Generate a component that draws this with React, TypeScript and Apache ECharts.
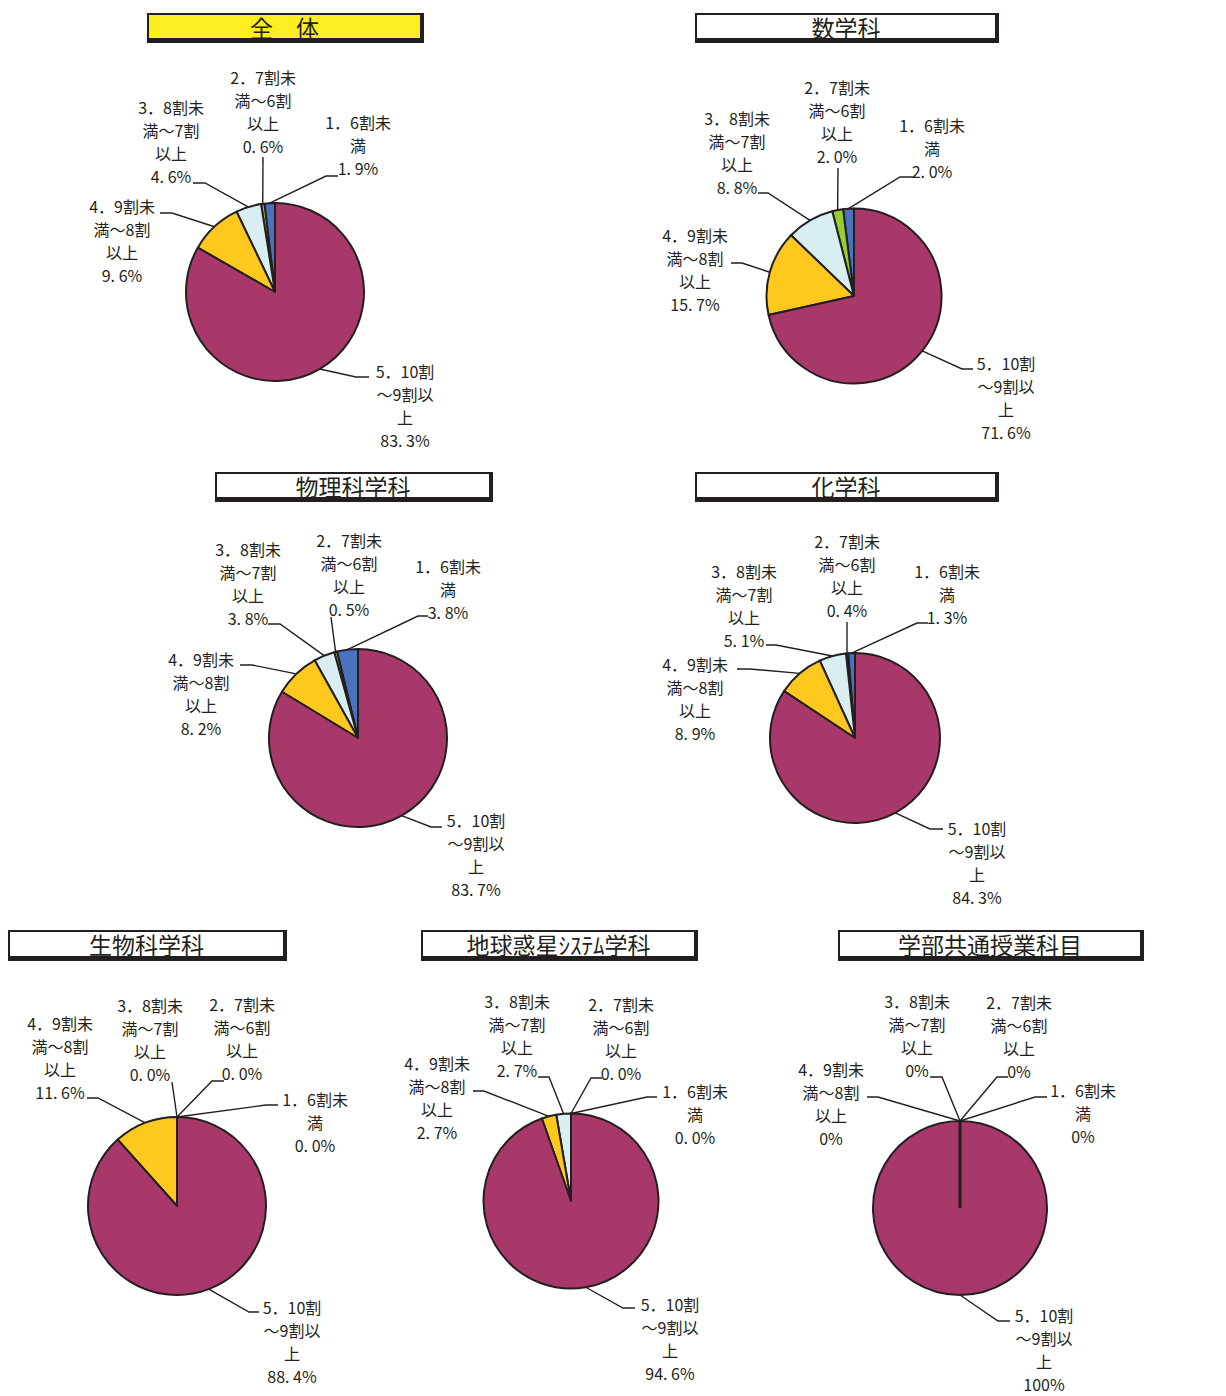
import React, { useEffect, useRef } from "react";
import * as echarts from "echarts";

// ---- data ----
const categories = [
  "1．6割未\n満",
  "2．7割未\n満～6割\n以上",
  "3．8割未\n満～7割\n以上",
  "4．9割未\n満～8割\n以上",
  "5．10割\n～9割以\n上",
];
const chartTitles = ["全　体", "数学科", "物理科学科", "化学科", "生物科学科", "地球惑星ｼｽﾃﾑ学科", "学部共通授業科目"];
const zentai = [1.9, 0.6, 4.6, 9.6, 83.3];
const sugaku = [2.0, 2.0, 8.8, 15.7, 71.6];
const butsuri = [3.8, 0.5, 3.8, 8.2, 83.7];
const kagaku = [1.3, 0.4, 5.1, 8.9, 84.3];
const seibutsu = [0.0, 0.0, 0.0, 11.6, 88.4];
const chikyu = [0.0, 0.0, 2.7, 2.7, 94.6];
const kyotsu = [0, 0, 0, 0, 100];
const seriesValues = [zentai, sugaku, butsuri, kagaku, seibutsu, chikyu, kyotsu];
const valueDecimals = [1, 1, 1, 1, 1, 1, 0];

// ---- layout / style ----
const sliceColors = ["#4A72BF", "#99CC33", "#D9EEF0", "#FFC81E", "#A8386A"];
const INK = "#231F20";
const FONT = "'Noto Sans CJK JP', 'Noto Sans', sans-serif";
const LABEL_FONT = 16;
const LINE_H = 23;

// [cx, cy, r]
const pieGeom = [
  [275, 292, 89],
  [854, 296, 87.5],
  [358, 738, 89],
  [855, 738, 85],
  [177, 1206, 89],
  [571, 1201, 87.5],
  [960, 1208, 87],
];

// per label: [textCenterX, firstLineCenterY, bendX, bendY, endX, endY]
const labelPos = [
  [
    [358, 122, 326, 176, 338, 176],
    [263, 77, 263, 157, 263, 157],
    [171, 107, 205, 183, 193, 183],
    [122, 206, 172, 213, 160, 213],
    [405, 371, 356, 377, 369, 377],
  ],
  [
    [932, 125, 900, 177, 913, 177],
    [837, 87, 838, 168, 838, 168],
    [737, 118, 768, 193, 758, 193],
    [695, 235, 742, 263, 731, 263],
    [1006, 363, 962, 369, 973, 369],
  ],
  [
    [448, 566, 418, 616, 428, 616],
    [349, 540, 331, 617, 331, 617],
    [248, 549, 280, 624, 268, 624],
    [201, 659, 252, 665, 240, 665],
    [476, 820, 431, 827, 442, 827],
  ],
  [
    [947, 571, 917, 623, 928, 623],
    [847, 541, 847, 622, 847, 622],
    [744, 571, 776, 645, 766, 645],
    [695, 664, 750, 669, 737, 669],
    [977, 828, 930, 829, 943, 829],
  ],
  [
    [315, 1099, 266, 1105, 278, 1105],
    [242, 1004, 212, 1081, 224, 1081],
    [150, 1005, 172, 1082, 172, 1082],
    [60, 1023, 98, 1098, 87, 1098],
    [292, 1307, 249, 1312, 259, 1312],
  ],
  [
    [695, 1091, 647, 1097, 657, 1097],
    [621, 1004, 591, 1078, 602, 1078],
    [517, 1001, 549, 1077, 538, 1077],
    [437, 1063, 484, 1091, 473, 1091],
    [670, 1304, 623, 1308, 635, 1308],
  ],
  [
    [1083, 1090, 1035, 1097, 1047, 1097],
    [1019, 1002, 997, 1077, 1008, 1077],
    [917, 1001, 942, 1077, 930, 1077],
    [831, 1069, 878, 1097, 867, 1097],
    [1044, 1315, 998, 1321, 1010, 1321],
  ],
];

// [left, top, right, bottom] of outer (shadowed) title box
const titleBoxes = [
  [147, 13, 424, 43],
  [695, 13, 999, 43],
  [215, 472, 493, 502],
  [695, 472, 999, 502],
  [8, 930, 287, 961],
  [421, 930, 698, 961],
  [838, 930, 1144, 961],
];
const titleFills = ["#FCEE21", "#FFFFFF", "#FFFFFF", "#FFFFFF", "#FFFFFF", "#FFFFFF", "#FFFFFF"];

function fmtValue(v: number, d: number) {
  const s = v.toFixed(d);
  return (d > 0 ? s.replace(".", ". ") : s) + "%";
}

export default function App() {
  const ref = useRef<HTMLDivElement>(null);
  useEffect(() => {
    if (!ref.current) return;
    const chart = echarts.init(ref.current, undefined, { renderer: "svg" });

    const series = seriesValues.map((vals, si) => {
      const [cx, cy, r] = pieGeom[si];
      return {
        type: "pie",
        center: [cx, cy],
        radius: r,
        startAngle: 90,
        clockwise: false,
        avoidLabelOverlap: false,
        silent: true,
        data: vals.map((v, i) => ({ name: categories[i], value: v })),
        itemStyle: { borderColor: INK, borderWidth: 2 },
        label: {
          show: true,
          position: "outside",
          formatter: (p: any) => p.name + "\n" + fmtValue(p.value, valueDecimals[si]),
          fontSize: LABEL_FONT,
          lineHeight: LINE_H,
          fontFamily: FONT,
          color: INK,
          align: "center",
        },
        labelLine: { show: true, length: 10, length2: 10, lineStyle: { color: INK, width: 1.4 } },
        labelLayout: (p: any) => {
          const L = labelPos[si][p.dataIndex];
          const pts = p.labelLinePoints;
          const start = pts && pts[0] ? pts[0] : [L[4], L[5]];
          return {
            x: L[0],
            y: L[1] - LINE_H / 2,
            align: "center",
            verticalAlign: "top",
            labelLinePoints: [start, [L[2], L[3]], [L[4], L[5]]],
          };
        },
      };
    });

    const graphic: any[] = [];
    titleBoxes.forEach((b, i) => {
      const [l, t, r, btm] = b;
      graphic.push({
        type: "rect",
        shape: { x: l, y: t, width: r - l, height: btm - t },
        style: { fill: INK },
        silent: true,
      });
      graphic.push({
        type: "rect",
        shape: { x: l + 2, y: t + 2, width: r - l - 6, height: btm - t - 7 },
        style: { fill: titleFills[i] },
        silent: true,
      });
      graphic.push({
        type: "text",
        x: (l + 2 + r - 4) / 2,
        y: (t + 2 + btm - 5) / 2,
        style: {
          text: chartTitles[i],
          fontSize: 23,
          fontFamily: FONT,
          fill: INK,
          align: "center",
          verticalAlign: "middle",
        },
        silent: true,
      });
    });

    // a pie made of one full slice still shows its start boundary as a radius line
    seriesValues.forEach((vals, si) => {
      const total = vals.reduce((a, b) => a + b, 0);
      if (vals.some((v) => v === total && total > 0)) {
        const [cx, cy, r] = pieGeom[si];
        graphic.push({
          type: "line",
          shape: { x1: cx, y1: cy, x2: cx, y2: cy - r },
          style: { stroke: INK, lineWidth: 3 },
          silent: true,
          z: 10,
        });
      }
    });

    chart.setOption({
      animation: false,
      color: sliceColors,
      backgroundColor: "#FFFFFF",
      series,
      graphic,
    });
    return () => chart.dispose();
  }, []);
  return (
    <div
      ref={ref}
      style={{ position: "absolute", left: 0, top: 0, width: 1226, height: 1396 }}
    />
  );
}
